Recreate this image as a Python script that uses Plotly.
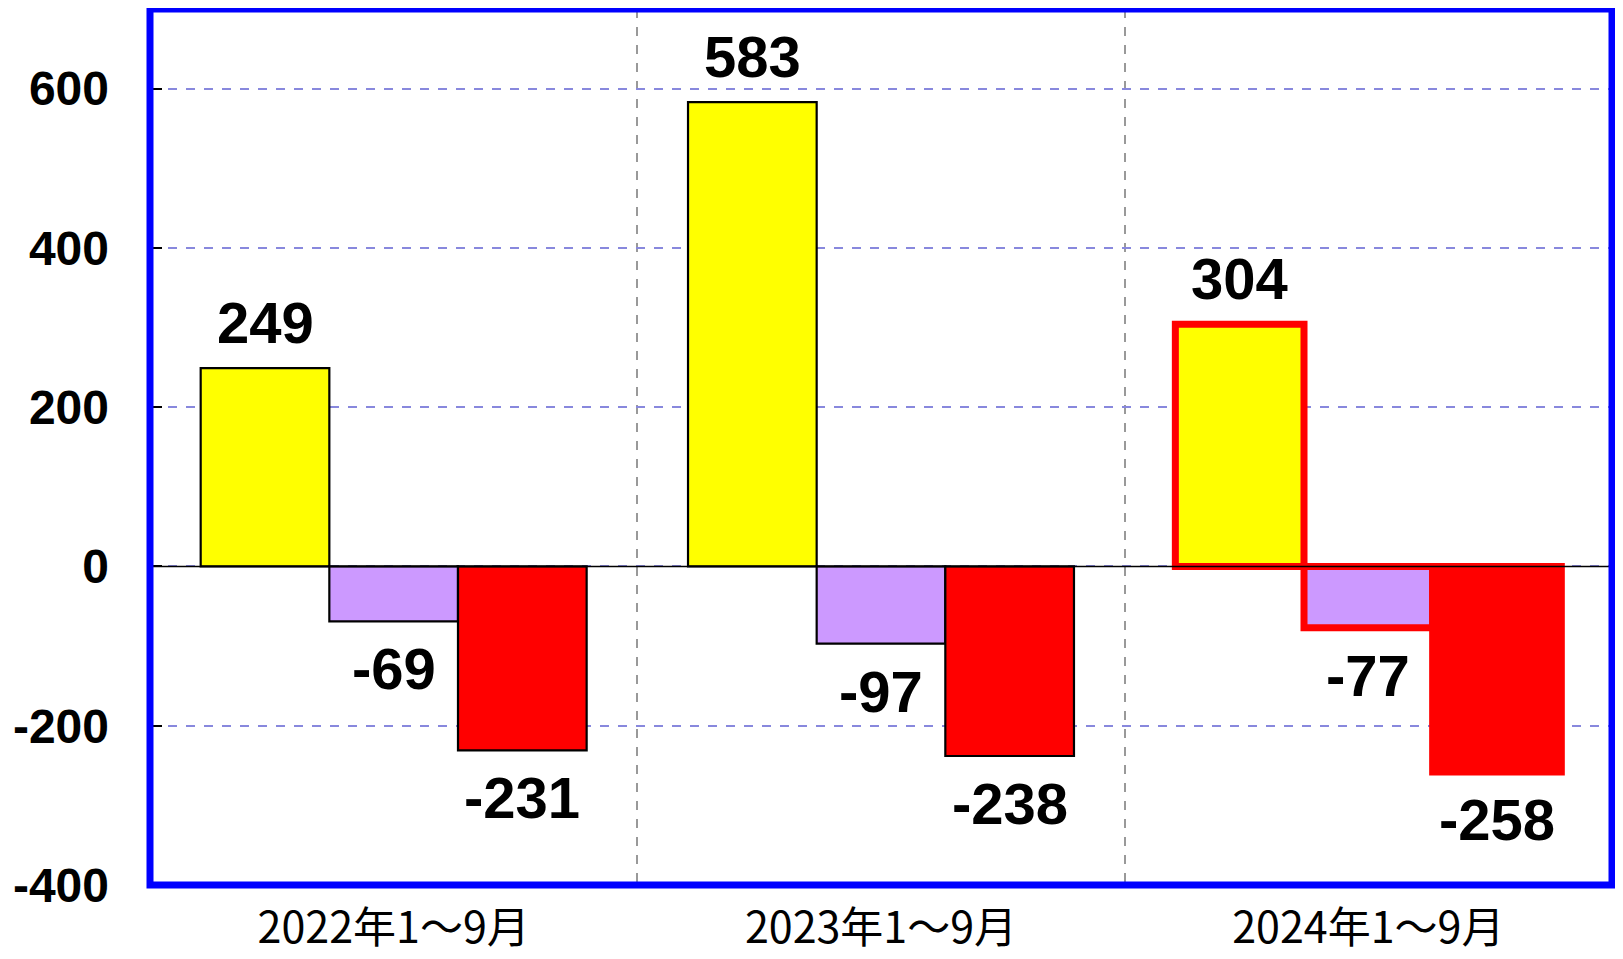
import plotly.graph_objects as go

# ---- data ----
categories = ["2022年1〜9月", "2023年1〜9月", "2024年1〜9月"]
series_yellow = [249, 583, 304]
series_purple = [-69, -97, -77]
series_red = [-231, -238, -258]
y_tick_vals = [-400, -200, 0, 200, 400, 600]
y_tick_text = ["-400", "-200", "0", "200", "400", "600"]

# ---- layout constants (page body has an 8px default margin) ----
W, H = 1615, 951
ML, MR, MT, MB = 142, 11, 1, 74
BARGAP = 0.208
plot_w = W - ML - MR
bar_px = plot_w / len(categories) * (1 - BARGAP) / 3

fill_colors = ["#FFFF00", "#CC99FF", "#FF0000"]
highlight_idx = 2  # 2024 highlighted with red outline

series_list = [series_yellow, series_purple, series_red]

fig = go.Figure()
for s, vals in enumerate(series_list):
    lc = ["#000000"] * len(vals)
    lw = [2.2] * len(vals)
    lc[highlight_idx] = "#FF0000"
    lw[highlight_idx] = 7
    fig.add_trace(go.Bar(
        x=categories, y=vals,
        marker=dict(color=fill_colors[s], line=dict(color=lc, width=lw)),
        showlegend=False, hoverinfo="skip",
    ))

label_font = dict(family="Liberation Sans, Arial", size=58, color="#000000", weight="bold")
annotations = []
for s, vals in enumerate(series_list):
    k = s - 1
    for cat, v in zip(categories, vals):
        pos = v >= 0
        annotations.append(dict(
            x=cat, y=v, xref="x", yref="y",
            text=str(v), showarrow=False, font=label_font,
            xanchor="center", yanchor="bottom" if pos else "top",
            xshift=k * bar_px, yshift=11 if pos else -13,
        ))

fig.update_layout(
    width=W, height=H, autosize=False,
    margin=dict(l=ML, r=MR, t=MT, b=MB, pad=0, autoexpand=False),
    paper_bgcolor="#FFFFFF", plot_bgcolor="#FFFFFF",
    barmode="group", bargap=BARGAP, bargroupgap=0,
    annotations=annotations,
    shapes=[
        dict(type="line", xref="paper", yref="y", x0=0, x1=1, y0=0, y1=0,
             line=dict(color="#000000", width=1.5), layer="above"),
        dict(type="rect", xref="paper", yref="paper", x0=0, x1=1, y0=0, y1=1,
             line=dict(color="#0000FF", width=7), layer="above"),
    ],
)
fig.update_xaxes(
    type="category", tickson="boundaries", ticks="",
    showgrid=True, gridcolor="#999999", griddash="dash", gridwidth=1.5,
    showline=False, zeroline=False, automargin=False,
    tickfont=dict(family="Noto Sans CJK JP", size=43, color="#000000"),
    ticklabelstandoff=14,
)
fig.update_yaxes(
    range=[-400, 700], tickvals=y_tick_vals, ticktext=y_tick_text,
    ticks="inside", ticklen=12, tickwidth=2, tickcolor="#000000",
    showgrid=True, gridcolor="#8888DD", griddash="dash", gridwidth=1.5,
    showline=False, zeroline=False, automargin=False,
    tickfont=dict(family="Liberation Sans, Arial", size=48, color="#000000", weight="bold"),
    ticklabelstandoff=40,
)

fig.write_html("out.html")
